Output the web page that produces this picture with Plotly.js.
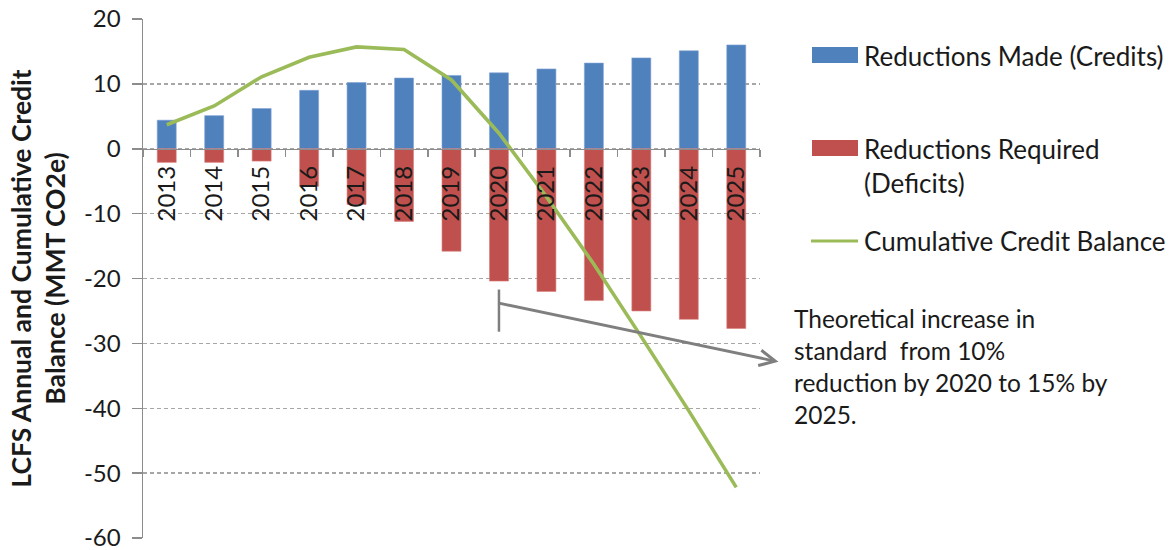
<!DOCTYPE html>
<html>
<head>
<meta charset="utf-8">
<script src="https://cdn.plot.ly/plotly-3.0.1.min.js"></script>
<style>
  html, body { margin: 0; padding: 0; background: #fff; }
  #chart { width: 1172px; height: 550px; }
</style>
</head>
<body>
<div id="chart"></div>
<script>
// LCFS annual credits/deficits and cumulative credit balance, 2013-2025 (MMT CO2e)
const years = ['2013', '2014', '2015', '2016', '2017', '2018', '2019',
               '2020', '2021', '2022', '2023', '2024', '2025'];
const creditsMade = [4.4, 5.1, 6.2, 9.0, 10.2, 10.9, 11.3, 11.7, 12.3, 13.2, 14.0, 15.1, 16.0];
const deficitsRequired = [-2.1, -2.1, -1.9, -5.8, -8.6, -11.2, -15.8, -20.4, -22.0, -23.4, -25.0, -26.3, -27.7];
const cumulativeBalance = [3.7, 6.6, 11.1, 14.1, 15.7, 15.3, 10.6, 2.4, -7.4, -17.8, -29.0, -40.4, -52.2];
const seriesNames = ['Reductions Made (Credits)', 'Reductions Required<br>(Deficits)', 'Cumulative Credit Balance'];
const seriesColors = ['#4F81BD', '#C0504D', '#9BBB59'];
const yTickValues = [-60, -50, -40, -30, -20, -10, 0, 10, 20];
const yTickLabels = ['-60', '-50', '-40', '-30', '-20', '-10', '0', '10', '20'];
const noteText = 'Theoretical increase in<br>standard\u00a0 from 10%<br>reduction by 2020 to 15% by<br>2025.';
const noteYear = '2020';
const noteLevel = -23.8;
const noteSpan = [-21.7, -28.2];

const FONT = 'Lato, "Open Sans", sans-serif';
const W = 1172, H = 550;
const M = { l: 143, r: 412, t: 19, b: 12, pad: 0, autoexpand: false };
const PW = W - M.l - M.r, PH = H - M.t - M.b;
// pixel -> paper helpers for the side legend and note
const px = x => (x - M.l) / PW;
const py = y => (H - M.b - y) / PH;

const traces = [
  { type: 'bar', x: years, y: creditsMade, name: seriesNames[0],
    marker: { color: seriesColors[0], line: { color: '#7FA3D3', width: 0.6 } } },
  { type: 'bar', x: years, y: deficitsRequired, name: seriesNames[1],
    marker: { color: seriesColors[1], line: { color: '#D98380', width: 0.6 } } },
  { type: 'scatter', mode: 'lines', x: years, y: cumulativeBalance, name: seriesNames[2],
    line: { color: seriesColors[2], width: 3.6 } }
];

// side legend rows: swatch + label
const legendRows = [
  { kind: 'rect', y0: 47, y1: 63, textY: 56, lines: 1 },
  { kind: 'rect', y0: 140, y1: 156, textY: 148, lines: 2 },
  { kind: 'line', y0: 241, y1: 241, textY: 241, lines: 1 }
];
const shapes = [];
const annotations = [];
legendRows.forEach((row, i) => {
  if (row.kind === 'rect') {
    shapes.push({ type: 'rect', xref: 'paper', yref: 'paper',
      x0: px(812), x1: px(858), y0: py(row.y1), y1: py(row.y0),
      fillcolor: seriesColors[i], line: { width: 0 } });
  } else {
    shapes.push({ type: 'line', xref: 'paper', yref: 'paper',
      x0: px(811), x1: px(858), y0: py(row.y0), y1: py(row.y0),
      line: { color: seriesColors[i], width: 3 } });
  }
  annotations.push({ xref: 'paper', yref: 'paper', x: px(862), y: py(row.textY),
    xanchor: 'left', yanchor: row.lines > 1 ? 'top' : 'middle',
    yshift: row.lines > 1 ? 17 : 0,
    text: seriesNames[i], showarrow: false, align: 'left',
    font: { family: FONT, size: 26, color: '#1a1a1a' } });
});

// note bracket and arrow
const noteIdx = years.indexOf(noteYear);
shapes.push({ type: 'line', xref: 'x', yref: 'y', x0: noteIdx, x1: noteIdx,
  y0: noteSpan[0], y1: noteSpan[1], line: { color: '#7F7F7F', width: 2.5 } });
annotations.push({ xref: 'x', yref: 'y', x: noteIdx, y: noteLevel,
  ax: 281, ay: 59, axref: 'pixel', ayref: 'pixel', text: ' ',
  font: { size: 1 }, showarrow: true, arrowside: 'start', startarrowhead: 5,
  startarrowsize: 1.1, arrowwidth: 2.8, arrowcolor: '#7F7F7F', startstandoff: 0, standoff: 0 });
annotations.push({ xref: 'paper', yref: 'paper', x: px(792), y: py(302),
  xanchor: 'left', yanchor: 'top', align: 'left', showarrow: false,
  text: noteText, font: { family: FONT, size: 24.5, color: '#1a1a1a' } });

const layout = {
  width: W, height: H,
  margin: M,
  paper_bgcolor: '#fff', plot_bgcolor: '#fff',
  showlegend: false,
  barmode: 'relative',
  bargap: 0.6,
  font: { family: FONT, size: 24, color: '#1a1a1a' },
  xaxis: {
    type: 'category', range: [-0.5, years.length - 0.5],
    anchor: 'free', position: 0.75,
    showline: true, linecolor: '#8C8C8C', linewidth: 1.5,
    ticks: 'outside', tickson: 'boundaries', ticklen: 7, tickcolor: '#8C8C8C', tickwidth: 1.5,
    ticklabelstandoff: 6,
    tickangle: -90, showgrid: false, zeroline: false,
    tickfont: { family: FONT, size: 24, color: '#1a1a1a' }
  },
  yaxis: {
    range: [-60, 20], tickvals: yTickValues, ticktext: yTickLabels,
    showline: true, linecolor: '#8C8C8C', linewidth: 1.5,
    ticks: 'outside', ticklen: 10, tickcolor: '#8C8C8C', tickwidth: 1.5,
    ticklabelstandoff: 6, ticklabeloverflow: 'allow',
    showgrid: true, gridcolor: '#A6A6A6', gridwidth: 1.3, griddash: '4px,3px',
    zeroline: false,
    tickfont: { family: FONT, size: 24, color: '#1a1a1a' },
    title: { text: 'LCFS Annual and Cumulative Credit<br>Balance (MMT CO2e)', standoff: 10,
             font: { family: FONT, size: 26.5, color: '#1a1a1a', weight: 'bold' } }
  },
  shapes: shapes,
  annotations: annotations
};

Plotly.newPlot('chart', traces, layout, { staticPlot: true, displayModeBar: false });
</script>
</body>
</html>
